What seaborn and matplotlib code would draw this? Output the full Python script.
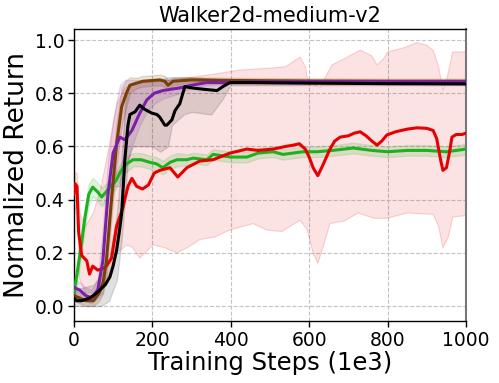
import matplotlib
matplotlib.use("Agg")
import matplotlib.pyplot as plt
import seaborn as sns
import numpy as np

title = "Walker2d-medium-v2"
xlabel = "Training Steps (1e3)"
ylabel = "Normalized Return"
xticks = [0, 200, 400, 600, 800, 1000]
yticks = [0.0, 0.2, 0.4, 0.6, 0.8, 1.0]

# ---- red ----
red_x = [0, 3, 8, 12, 20, 33, 40, 48, 61, 72, 83, 96, 109, 125, 138, 148, 160, 175, 190, 205,
         219, 245, 265, 288, 321, 355, 398, 441, 470, 508, 540, 560, 575, 590, 600, 610, 622,
         635, 653, 665, 679, 700, 715, 730, 745, 760, 773, 785, 798, 820, 850, 875, 900, 916,
         925, 935, 941, 950, 958, 964, 975, 990, 1000]
red_y = [0.42, 0.46, 0.45, 0.28, 0.19, 0.17, 0.12, 0.15, 0.135, 0.14, 0.15, 0.18, 0.30, 0.37,
         0.45, 0.48, 0.45, 0.44, 0.455, 0.50, 0.51, 0.52, 0.485, 0.52, 0.545, 0.55, 0.575,
         0.59, 0.585, 0.59, 0.60, 0.605, 0.61, 0.59, 0.56, 0.52, 0.49, 0.53, 0.59, 0.62,
         0.635, 0.64, 0.65, 0.655, 0.64, 0.62, 0.605, 0.62, 0.643, 0.655, 0.665, 0.67,
         0.668, 0.66, 0.63, 0.55, 0.51, 0.52, 0.58, 0.635, 0.645, 0.645, 0.65]
red_up_x = [0, 8, 15, 30, 50, 70, 90, 110, 130, 160, 200, 250, 300, 350, 423, 508, 540, 577,
            590, 597, 628, 645, 658, 690, 730, 760, 773, 790, 800, 840, 875, 900, 916, 930,
            941, 952, 966, 1000]
red_up_y = [0.50, 0.50, 0.35, 0.30, 0.35, 0.45, 0.60, 0.76, 0.82, 0.84, 0.84, 0.85, 0.86,
            0.87, 0.887, 0.895, 0.90, 0.936, 0.90, 0.85, 0.82, 0.87, 0.906, 0.93, 0.962,
            0.94, 0.906, 0.93, 0.955, 0.97, 0.99, 0.98, 0.962, 0.90, 0.81, 0.86, 0.955, 0.955]
red_lo_x = [0, 8, 15, 30, 50, 70, 90, 110, 135, 150, 168, 202, 230, 263, 290, 321, 360, 398,
            457, 492, 530, 577, 595, 610, 622, 635, 653, 690, 725, 765, 798, 850, 916, 930,
            941, 955, 966, 1000]
red_lo_y = [0.35, 0.38, 0.10, 0.05, 0.05, 0.08, 0.12, 0.20, 0.23, 0.22, 0.18, 0.23, 0.22,
            0.20, 0.22, 0.25, 0.26, 0.286, 0.31, 0.286, 0.28, 0.323, 0.286, 0.20, 0.16, 0.22,
            0.31, 0.32, 0.35, 0.33, 0.33, 0.35, 0.345, 0.30, 0.22, 0.26, 0.335, 0.34]

# ---- green ----
green_x = [0, 8, 18, 28, 38, 48, 60, 71, 83, 96, 107, 117, 130, 151, 172, 194, 210, 227, 245,
           263, 288, 304, 339, 355, 400, 441, 470, 508, 533, 584, 620, 660, 712, 760, 800,
           850, 900, 950, 1000]
green_y = [0.05, 0.12, 0.22, 0.33, 0.42, 0.447, 0.43, 0.41, 0.43, 0.455, 0.47, 0.50, 0.53,
           0.55, 0.55, 0.54, 0.535, 0.52, 0.54, 0.55, 0.55, 0.556, 0.55, 0.57, 0.56, 0.56,
           0.575, 0.58, 0.57, 0.58, 0.58, 0.585, 0.594, 0.585, 0.58, 0.585, 0.585, 0.58, 0.59]
green_err = [0.03, 0.04, 0.04, 0.04, 0.04, 0.035, 0.035, 0.035, 0.03, 0.03, 0.03, 0.03, 0.03,
             0.025, 0.025, 0.025, 0.025, 0.025, 0.025, 0.025, 0.02, 0.02, 0.02, 0.02, 0.02,
             0.02, 0.02, 0.02, 0.02, 0.02, 0.02, 0.02, 0.02, 0.02, 0.02, 0.02, 0.02, 0.02, 0.02]

# ---- purple ----
purple_x = [0, 15, 30, 45, 61, 74, 87, 100, 117, 130, 148, 168, 186, 205, 227, 270, 300, 339,
            390, 450, 500, 600, 700, 800, 900, 1000]
purple_y = [0.07, 0.06, 0.04, 0.03, 0.06, 0.17, 0.42, 0.575, 0.635, 0.625, 0.66, 0.725, 0.775,
            0.80, 0.81, 0.82, 0.83, 0.84, 0.84, 0.842, 0.843, 0.843, 0.843, 0.843, 0.843, 0.843]
purple_lo = [0.04, 0.03, 0.02, 0.01, 0.03, 0.05, 0.25, 0.45, 0.45, 0.50, 0.60, 0.68, 0.73,
             0.76, 0.78, 0.80, 0.82, 0.83, 0.835, 0.835, 0.835, 0.835, 0.835, 0.835, 0.835, 0.835]
purple_hi = [0.10, 0.09, 0.07, 0.06, 0.10, 0.30, 0.55, 0.70, 0.83, 0.85, 0.85, 0.85, 0.85,
             0.85, 0.85, 0.85, 0.85, 0.85, 0.85, 0.85, 0.85, 0.85, 0.85, 0.85, 0.85, 0.85]

# ---- brown ----
brown_x = [0, 15, 30, 50, 65, 75, 83, 96, 109, 122, 134, 143, 160, 176, 219, 232, 240, 253,
           300, 400, 600, 800, 1000]
brown_y = [0.04, 0.03, 0.02, 0.02, 0.05, 0.09, 0.17, 0.40, 0.61, 0.75, 0.80, 0.83, 0.838,
           0.845, 0.85, 0.845, 0.83, 0.845, 0.85, 0.848, 0.846, 0.845, 0.845]
brown_err = [0.02, 0.02, 0.02, 0.02, 0.03, 0.04, 0.06, 0.08, 0.08, 0.07, 0.05, 0.03, 0.02,
             0.02, 0.02, 0.02, 0.02, 0.015, 0.01, 0.01, 0.01, 0.01, 0.01]

# ---- black ----
black_x = [0, 7, 20, 40, 55, 66, 80, 92, 100, 109, 116, 122, 130, 138, 143, 156, 168, 180,
           199, 212, 219, 232, 237, 250, 258, 270, 283, 300, 330, 365, 380, 398, 450, 600,
           800, 1000]
black_y = [0.03, 0.02, 0.02, 0.03, 0.045, 0.06, 0.08, 0.11, 0.15, 0.21, 0.28, 0.35, 0.55,
           0.68, 0.72, 0.73, 0.755, 0.74, 0.725, 0.72, 0.71, 0.68, 0.68, 0.70, 0.735, 0.76,
           0.825, 0.82, 0.815, 0.81, 0.825, 0.84, 0.84, 0.838, 0.836, 0.835]
black_band_x = [0, 50, 70, 90, 110, 122, 130, 138, 150, 200, 220, 240, 250, 280, 300, 350,
                380, 400, 1000]
black_lo = [0.0, 0.0, 0.0, 0.02, 0.10, 0.25, 0.40, 0.55, 0.60, 0.60, 0.58, 0.60, 0.68, 0.72,
            0.73, 0.72, 0.78, 0.83, 0.83]
black_hi = [0.06, 0.08, 0.12, 0.18, 0.35, 0.55, 0.75, 0.82, 0.84, 0.85, 0.85, 0.86, 0.86,
            0.86, 0.86, 0.855, 0.85, 0.85, 0.845]

C_RED = "#e60000"
C_GREEN = "#1fb01f"
C_PURPLE = "#7b1fa8"
C_BROWN = "#7a3f05"
C_BLACK = "#000000"

sns.set_style("white")
plt.rcParams["font.family"] = ["DejaVu Sans"]
plt.rcParams["text.color"] = "black"
plt.rcParams["axes.labelcolor"] = "black"
plt.rcParams["xtick.color"] = "black"
plt.rcParams["ytick.color"] = "black"

fig = plt.figure(figsize=(4.99, 3.83), dpi=100)
ax = fig.add_axes([0.148, 0.162, 0.786, 0.762])

# red band: polygon from upper and lower edges
red_poly_x = red_up_x + red_lo_x[::-1]
red_poly_y = red_up_y + red_lo_y[::-1]
ax.fill(red_poly_x, red_poly_y, facecolor=(0.9, 0.0, 0.0, 0.11),
        edgecolor=(0.95, 0.3, 0.3, 0.25), linewidth=0.8, zorder=1)
g_lo = [a - b for a, b in zip(green_y, green_err)]
g_hi = [a + b for a, b in zip(green_y, green_err)]
ax.fill_between(green_x, g_lo, g_hi, color=C_GREEN, alpha=0.15, zorder=1)
ax.fill_between(purple_x, purple_lo, purple_hi, color=C_PURPLE, alpha=0.12, zorder=1)
b_lo = [a - b for a, b in zip(brown_y, brown_err)]
b_hi = [a + b for a, b in zip(brown_y, brown_err)]
ax.fill_between(brown_x, b_lo, b_hi, color=C_BROWN, alpha=0.15, zorder=1)
ax.fill_between(black_band_x, black_lo, black_hi, color=C_BLACK, alpha=0.12, zorder=1)

lw = 2.2
sns.lineplot(x=green_x, y=green_y, ax=ax, color=C_GREEN, lw=lw, zorder=3)
sns.lineplot(x=red_x, y=red_y, ax=ax, color=C_RED, lw=lw, zorder=4)
sns.lineplot(x=brown_x, y=brown_y, ax=ax, color=C_BROWN, lw=lw, zorder=5)
sns.lineplot(x=purple_x, y=purple_y, ax=ax, color=C_PURPLE, lw=lw, zorder=6)
sns.lineplot(x=black_x, y=black_y, ax=ax, color=C_BLACK, lw=lw, zorder=7)

ax.set_xlim(0, 1000)
ax.set_ylim(-0.056, 1.041)
ax.set_xticks(xticks)
ax.set_yticks(yticks)
ax.set_yticklabels([f"{v:.1f}" for v in yticks])
ax.grid(True, linestyle="--", color="#c4c4c4", linewidth=0.8)
ax.tick_params(axis="both", labelsize=13.5, length=4, width=1, color="black",
               labelcolor="black", direction="out", bottom=True, left=True, pad=3)
ax.set_xlabel(xlabel, fontsize=17.5, labelpad=1, color="black")
ax.set_ylabel(ylabel, fontsize=19, labelpad=3, color="black")
ax.set_title(title, fontsize=15, pad=5, color="black")
for s in ["top", "left", "bottom"]:
    ax.spines[s].set_color("black")
    ax.spines[s].set_linewidth(1.0)
ax.spines["right"].set_color("#777777")
ax.spines["right"].set_linewidth(1.5)

fig.savefig("out.png", dpi=100)
